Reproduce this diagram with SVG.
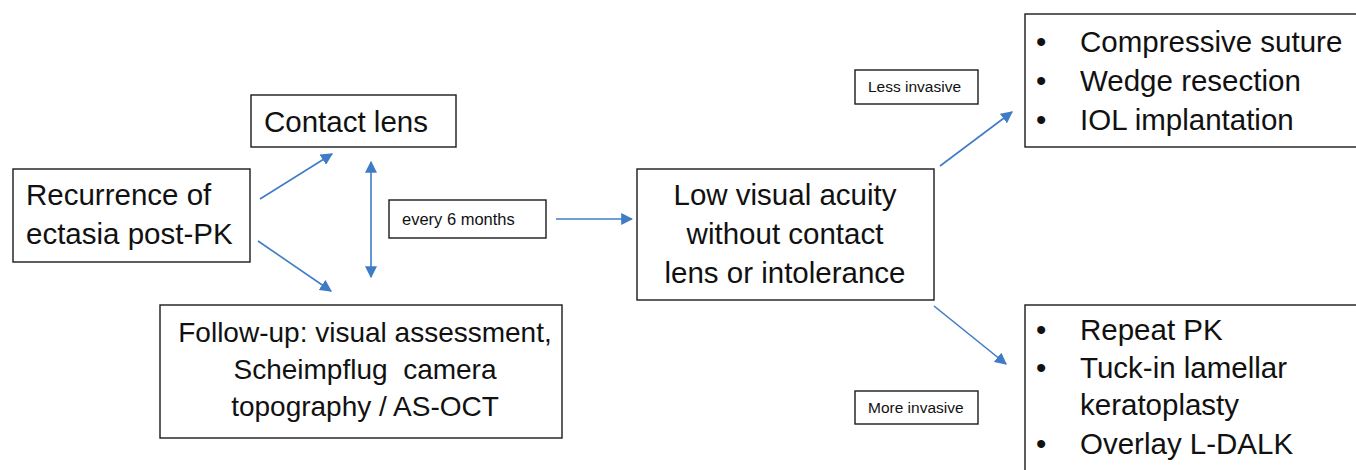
<svg xmlns="http://www.w3.org/2000/svg" width="1356" height="470" viewBox="0 0 1356 470">
<defs>
<style>
.box{fill:#fff;stroke:#1a1a1a;stroke-width:1.4}
.t{font-family:"Liberation Sans",Arial,sans-serif;font-size:29.5px;fill:#111}
.f{font-size:28px}
.s{font-family:"Liberation Sans",Arial,sans-serif;font-size:15.5px;fill:#111}
.m{font-family:"Liberation Sans",Arial,sans-serif;font-size:16.5px;fill:#111}
.c{text-anchor:middle}
.ln{stroke:#3f7cc6;stroke-width:1.6;fill:none}
</style>
<marker id="ahb" viewBox="0 0 10 10" refX="9" refY="5" markerWidth="12" markerHeight="12" markerUnits="userSpaceOnUse" orient="auto-start-reverse">
<path d="M0,0 L10,5 L0,10 z" fill="#3f7cc6"/>
</marker>
</defs>
<rect width="1356" height="470" fill="#fff"/>

<g id="recurrence">
<rect class="box" x="13" y="169" width="237" height="93"/>
<text class="t" x="26" y="205">Recurrence of</text>
<text class="t" x="26" y="244">ectasia post-PK</text>
</g>

<g id="contact-lens">
<rect class="box" x="251" y="95" width="205" height="52"/>
<text class="t" x="264" y="132">Contact lens</text>
</g>

<g id="follow-up">
<rect class="box" x="160" y="305" width="402" height="133"/>
<text class="t f c" x="365" y="342">Follow-up: visual assessment,</text>
<text class="t f c" x="365" y="379" xml:space="preserve">Scheimpflug  camera</text>
<text class="t f c" x="365" y="416">topography / AS-OCT</text>
</g>

<g id="every-6-months">
<rect class="box" x="389" y="200" width="157" height="38"/>
<text class="m" x="402" y="225">every 6 months</text>
</g>

<g id="low-visual-acuity">
<rect class="box" x="637" y="169" width="297" height="131"/>
<text class="t c" x="785" y="205">Low visual acuity</text>
<text class="t c" x="785" y="244">without contact</text>
<text class="t c" x="785" y="283">lens or intolerance</text>
</g>

<g id="less-invasive">
<rect class="box" x="855" y="70" width="123" height="34"/>
<text class="s" x="868" y="92">Less invasive</text>
</g>

<g id="more-invasive">
<rect class="box" x="855" y="391" width="123" height="33"/>
<text class="s" x="868" y="413">More invasive</text>
</g>

<g id="less-invasive-options">
<rect class="box" x="1025" y="14" width="340" height="133"/>
<text class="t" x="1036" y="52">•</text>
<text class="t" x="1080" y="52">Compressive suture</text>
<text class="t" x="1036" y="91">•</text>
<text class="t" x="1080" y="91">Wedge resection</text>
<text class="t" x="1036" y="130">•</text>
<text class="t" x="1080" y="130">IOL implantation</text>
</g>

<g id="more-invasive-options">
<rect class="box" x="1025" y="305" width="340" height="180"/>
<text class="t" x="1036" y="340">•</text>
<text class="t" x="1080" y="340">Repeat PK</text>
<text class="t" x="1036" y="378">•</text>
<text class="t" x="1080" y="378">Tuck-in lamellar</text>
<text class="t" x="1080" y="415">keratoplasty</text>
<text class="t" x="1036" y="454">•</text>
<text class="t" x="1080" y="454">Overlay L-DALK</text>
</g>

<g id="connectors">
<line class="ln" x1="260" y1="199" x2="332" y2="154" marker-end="url(#ahb)"/>
<line class="ln" x1="258" y1="241" x2="331" y2="291" marker-end="url(#ahb)"/>
<line class="ln" x1="371" y1="162" x2="371" y2="277" marker-start="url(#ahb)" marker-end="url(#ahb)"/>
<line class="ln" x1="556" y1="219" x2="632" y2="219" marker-end="url(#ahb)"/>
<line class="ln" x1="940" y1="166" x2="1012" y2="112" marker-end="url(#ahb)"/>
<line class="ln" x1="934" y1="306" x2="1006" y2="364" marker-end="url(#ahb)"/>
</g>
</svg>
